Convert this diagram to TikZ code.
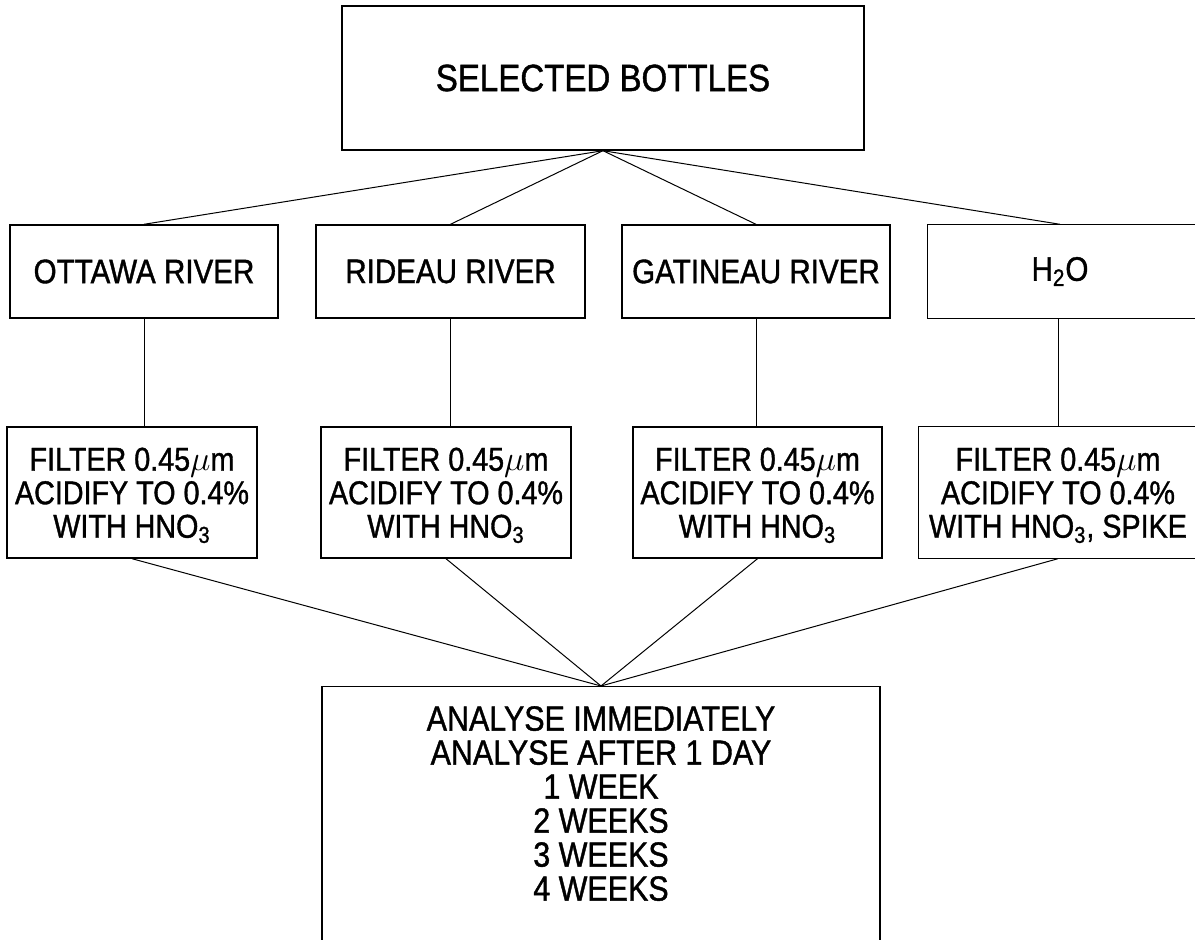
\documentclass[tikz,border=0pt]{standalone}
\usepackage{fontspec}
\setmainfont[FakeStretch=0.87,FakeBold=1.1]{Liberation Sans}
\newcommand\ftext[1]{\raisebox{-2.5pt}[\height][\depth]{\begin{tabular}{@{}c@{}}#1\end{tabular}}}
\begin{document}
\begin{tikzpicture}[x=0.5pt,y=-0.5pt,
  boxline/.style={draw=black,line width=0.7pt},
  box/.style={boxline,inner sep=0pt,align=center},
  titlebox/.style={box,minimum width=261pt,minimum height=72pt,font=\fontsize{19}{20}\selectfont},
  riverbox/.style={box,minimum height=46.5pt,font=\fontsize{17}{18}\selectfont},
  filterbox/.style={boxline,inner sep=0pt,minimum height=65.5pt,font=\fontsize{16.5}{16.75}\selectfont},
  resultbox/.style={box,anchor=north,minimum width=279pt,inner ysep=9.75pt,text depth=60pt,font=\fontsize{17.5}{17}\selectfont},
  conn/.style={draw=black,line width=0.5pt}]
\useasboundingbox (0,0) rectangle (1195,940);
\fill[white] (0,0) rectangle (1195,940);
\renewcommand{\arraystretch}{1}
% top
\node[titlebox] (top) at (603,78) {SELECTED BOTTLES};
% rivers
\node[riverbox,minimum width=134pt] (o1) at (144,271.5) {OTTAWA RIVER};
\node[riverbox,minimum width=134.5pt] (o2) at (450.5,271.5) {RIDEAU RIVER};
\node[riverbox,minimum width=134pt] (o3) at (756,271.5) {GATINEAU RIVER};
\node[riverbox,draw=none,minimum width=150pt] (o4) at (1078,271.5) {\hspace*{-18pt}H\textsubscript{2}O};
\draw[boxline] (o4.north east) -- (o4.north west) -- (o4.south west) -- (o4.south east);
% filters
\node[filterbox,minimum width=125pt] (f1) at (132,492.5) {\ftext{FILTER 0.45$\mu$m\\ACIDIFY TO 0.4\%\\WITH HNO\textsubscript{3}}};
\node[filterbox,minimum width=125pt] (f2) at (446,492.5) {\ftext{FILTER 0.45$\mu$m\\ACIDIFY TO 0.4\%\\WITH HNO\textsubscript{3}}};
\node[filterbox,minimum width=124.5pt] (f3) at (757.5,492.5) {\ftext{FILTER 0.45$\mu$m\\ACIDIFY TO 0.4\%\\WITH HNO\textsubscript{3}}};
\node[filterbox,draw=none,minimum width=151pt] (f4) at (1070,492.5) {\hspace*{-12pt}\ftext{FILTER 0.45$\mu$m\\ACIDIFY TO 0.4\%\\WITH HNO\textsubscript{3}, SPIKE}};
\draw[boxline] (f4.north east) -- (f4.north west) -- (f4.south west) -- (f4.south east);
% result
\node[resultbox] (res) at (601,686) {ANALYSE IMMEDIATELY\\ANALYSE AFTER 1 DAY\\1 WEEK\\2 WEEKS\\3 WEEKS\\4 WEEKS};
% connectors
\foreach \r in {o1,o2,o3} \draw[conn] (top.south) -- (\r.north);
\draw[conn] (top.south) -- ([xshift=-9pt]o4.north);
\draw[conn] (o1.south) -- (o1.south |- f1.north);
\draw[conn] (o2.south) -- (o2.south |- f2.north);
\draw[conn] (o3.south) -- (o3.south |- f3.north);
\draw[conn] ([xshift=-6pt]f4.north |- o4.south) -- ([xshift=-6pt]f4.north);
\foreach \f in {f1,f2,f3} \draw[conn] (\f.south) -- (res.north);
\draw[conn] ([xshift=-6pt]f4.south) -- (res.north);
\end{tikzpicture}
\end{document}
